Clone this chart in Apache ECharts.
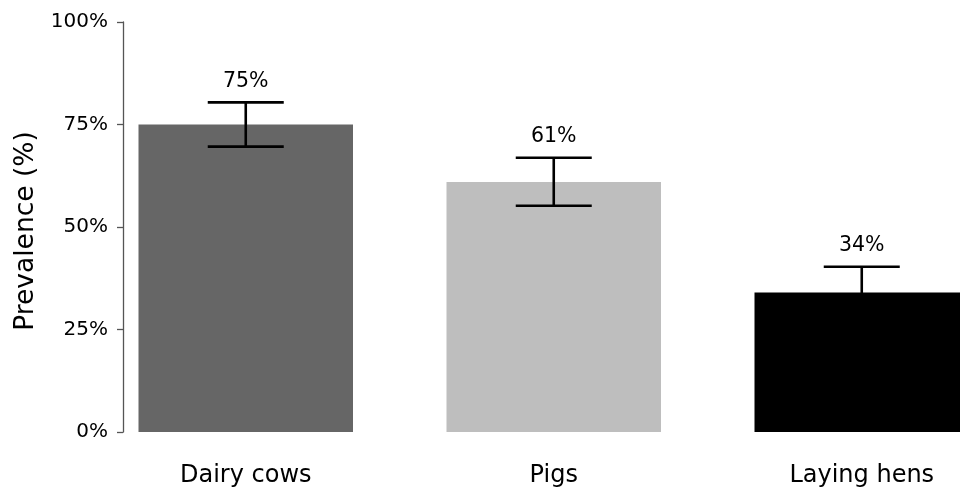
<!DOCTYPE html>
<html>
<head>
<meta charset="utf-8">
<title>Prevalence by species</title>
<script src="https://cdn.jsdelivr.net/npm/echarts@6/dist/echarts.min.js"></script>
<style>
  html, body { margin: 0; padding: 0; background: #ffffff; }
  #chart { width: 960px; height: 490px; }
</style>
</head>
<body>
<div id="chart"></div>
<script>
// Species and their estimated prevalence with 95% confidence limits
const categories = ['Dairy cows', 'Pigs', 'Laying hens'];
const prevalence = [75, 61, 34];
const ciLower = [69.6, 55.2, 27.7];
const ciUpper = [80.4, 66.9, 40.3];
const barColors = ['#666666', '#bebebe', '#000000'];

const FONT = '"DejaVu Sans", "Liberation Sans", Arial, sans-serif';

const chart = echarts.init(document.getElementById('chart'), null, { renderer: 'canvas' });

const errorData = categories.map((c, i) => [i, ciLower[i], ciUpper[i], prevalence[i]]);

// Whisker with caps at both confidence limits, value label above the upper cap
function renderErrorBar(params, api) {
  const idx = api.value(0);
  const lo = api.coord([idx, api.value(1)]);
  const hi = api.coord([idx, api.value(2)]);
  const half = 38;
  const lineStyle = { stroke: '#000000', lineWidth: 2.6 };
  return {
    type: 'group',
    children: [
      { type: 'line', shape: { x1: hi[0], y1: hi[1], x2: lo[0], y2: lo[1] }, style: lineStyle },
      { type: 'line', shape: { x1: hi[0] - half, y1: hi[1], x2: hi[0] + half, y2: hi[1] }, style: lineStyle },
      { type: 'line', shape: { x1: lo[0] - half, y1: lo[1], x2: lo[0] + half, y2: lo[1] }, style: lineStyle },
      {
        type: 'text',
        style: {
          x: hi[0], y: hi[1] - 21,
          text: api.value(3) + '%',
          fill: '#000000',
          font: '20.5px ' + FONT,
          align: 'center',
          verticalAlign: 'middle'
        }
      }
    ]
  };
}

chart.setOption({
  animation: false,
  backgroundColor: '#ffffff',
  grid: {
    left: 91.75, top: 22, width: 924, bottom: 58,
    containLabel: false,
    outerBoundsMode: 'none'
  },
  xAxis: {
    type: 'category',
    data: categories,
    axisLine: { show: false },
    axisTick: { show: false },
    axisLabel: { color: '#000000', fontSize: 24, fontFamily: FONT, margin: 32 },
    splitLine: { show: false }
  },
  yAxis: {
    type: 'value',
    min: 0, max: 100, interval: 25,
    offset: -31.25,
    name: 'Prevalence (%)',
    nameLocation: 'middle',
    nameRotate: 90,
    nameGap: 77,
    nameTextStyle: { color: '#000000', fontSize: 26.5, fontFamily: FONT, padding: [0, 8, 0, 0] },
    axisLine: { show: true, lineStyle: { color: '#555555', width: 1.3 } },
    axisTick: { show: true, length: 6, lineStyle: { color: '#555555', width: 1.3 } },
    axisLabel: { color: '#000000', fontSize: 20, fontFamily: FONT, margin: 15, formatter: '{value}%' },
    splitLine: { show: false }
  },
  series: [
    {
      type: 'bar',
      data: prevalence.map((v, i) => ({ value: v, itemStyle: { color: barColors[i] } })),
      barWidth: 214.5,
      z: 2
    },
    {
      type: 'custom',
      data: errorData,
      renderItem: renderErrorBar,
      encode: { x: 0, y: [1, 2] },
      z: 3
    }
  ]
});
</script>
</body>
</html>
